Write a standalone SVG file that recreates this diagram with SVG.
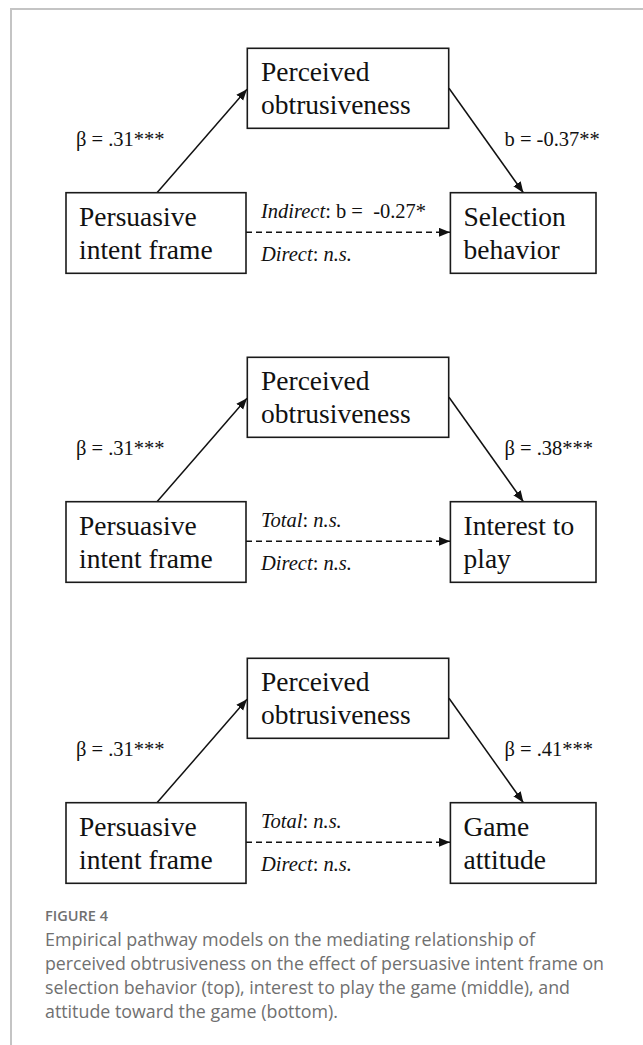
<svg xmlns="http://www.w3.org/2000/svg" width="643" height="1045" viewBox="0 0 643 1045">
  <style>
    .box { fill: #ffffff; stroke: #1a1a1a; stroke-width: 1.6; }
    .node { font-family: "Liberation Serif", "Times New Roman", serif; font-size: 27.5px; fill: #111111; }
    .lbl { font-family: "Liberation Serif", "Times New Roman", serif; font-size: 20.5px; fill: #111111; white-space: pre; }
    .it { font-style: italic; }
    .edge { stroke: #111111; stroke-width: 1.5; fill: none; }
    .dash { stroke-dasharray: 6 4; }
    .frame { stroke: #c4c4c4; stroke-width: 2; fill: none; }
    .cap { font-family: "Open Sans", "Noto Sans", sans-serif; fill: #707070; }
  </style>
  <defs>
    <marker id="arr" markerUnits="userSpaceOnUse" markerWidth="12" markerHeight="10" refX="11" refY="4.5" orient="auto">
      <path d="M0,0 L11,4.5 L0,9 z" fill="#111111"/>
    </marker>
  </defs>
  <rect width="643" height="1045" fill="#ffffff"/>
  <path class="frame" d="M11,1045 L11,9 L643,9"/>

  <!-- Panel 1 -->
  <g id="panel1">
    <g id="p1-connectors">
      <line class="edge" x1="157" y1="192.7" x2="247" y2="89.3" marker-end="url(#arr)"/>
      <line class="edge" x1="449" y1="88.3" x2="523.4" y2="192.7" marker-end="url(#arr)"/>
      <line class="edge dash" x1="246" y1="232.3" x2="450" y2="232.3" marker-end="url(#arr)"/>
      <text class="lbl" x="76" y="145.7">β = .31***</text>
      <text class="lbl" x="504.5" y="145.7">b = -0.37**</text>
      <text class="lbl" x="261" y="218.3"><tspan class="it">Indirect</tspan>: b =  -0.27*</text>
      <text class="lbl" x="261" y="261"><tspan class="it">Direct</tspan>: <tspan class="it">n.s.</tspan></text>
    </g>
    <g id="p1-mediator">
      <rect class="box" x="247.3" y="48.3" width="201.4" height="80"/>
      <text class="node" x="261" y="81">Perceived</text>
      <text class="node" x="261" y="114.3">obtrusiveness</text>
    </g>
    <g id="p1-predictor">
      <rect class="box" x="66" y="192.7" width="180" height="80.6"/>
      <text class="node" x="79" y="225.7">Persuasive</text>
      <text class="node" x="79" y="258.7">intent frame</text>
    </g>
    <g id="p1-outcome">
      <rect class="box" x="450.4" y="192.7" width="145.6" height="80.6"/>
      <text class="node" x="463.5" y="225.7">Selection</text>
      <text class="node" x="463.5" y="258.7">behavior</text>
    </g>
  </g>

  <!-- Panel 2 -->
  <g id="panel2" transform="translate(0,309)">
    <g id="p2-connectors">
      <line class="edge" x1="157" y1="192.7" x2="247" y2="89.3" marker-end="url(#arr)"/>
      <line class="edge" x1="449" y1="88.3" x2="523.4" y2="192.7" marker-end="url(#arr)"/>
      <line class="edge dash" x1="246" y1="232.3" x2="450" y2="232.3" marker-end="url(#arr)"/>
      <text class="lbl" x="76" y="145.7">β = .31***</text>
      <text class="lbl" x="504.5" y="145.7">β = .38***</text>
      <text class="lbl" x="261" y="218.3"><tspan class="it">Total</tspan>: <tspan class="it">n.s.</tspan></text>
      <text class="lbl" x="261" y="261"><tspan class="it">Direct</tspan>: <tspan class="it">n.s.</tspan></text>
    </g>
    <g id="p2-mediator">
      <rect class="box" x="247.3" y="48.3" width="201.4" height="80"/>
      <text class="node" x="261" y="81">Perceived</text>
      <text class="node" x="261" y="114.3">obtrusiveness</text>
    </g>
    <g id="p2-predictor">
      <rect class="box" x="66" y="192.7" width="180" height="80.6"/>
      <text class="node" x="79" y="225.7">Persuasive</text>
      <text class="node" x="79" y="258.7">intent frame</text>
    </g>
    <g id="p2-outcome">
      <rect class="box" x="450.4" y="192.7" width="145.6" height="80.6"/>
      <text class="node" x="463.5" y="225.7">Interest to</text>
      <text class="node" x="463.5" y="258.7">play</text>
    </g>
  </g>

  <!-- Panel 3 -->
  <g id="panel3" transform="translate(0,610)">
    <g id="p3-connectors">
      <line class="edge" x1="157" y1="192.7" x2="247" y2="89.3" marker-end="url(#arr)"/>
      <line class="edge" x1="449" y1="88.3" x2="523.4" y2="192.7" marker-end="url(#arr)"/>
      <line class="edge dash" x1="246" y1="232.3" x2="450" y2="232.3" marker-end="url(#arr)"/>
      <text class="lbl" x="76" y="145.7">β = .31***</text>
      <text class="lbl" x="504.5" y="145.7">β = .41***</text>
      <text class="lbl" x="261" y="218.3"><tspan class="it">Total</tspan>: <tspan class="it">n.s.</tspan></text>
      <text class="lbl" x="261" y="261"><tspan class="it">Direct</tspan>: <tspan class="it">n.s.</tspan></text>
    </g>
    <g id="p3-mediator">
      <rect class="box" x="247.3" y="48.3" width="201.4" height="80"/>
      <text class="node" x="261" y="81">Perceived</text>
      <text class="node" x="261" y="114.3">obtrusiveness</text>
    </g>
    <g id="p3-predictor">
      <rect class="box" x="66" y="192.7" width="180" height="80.6"/>
      <text class="node" x="79" y="225.7">Persuasive</text>
      <text class="node" x="79" y="258.7">intent frame</text>
    </g>
    <g id="p3-outcome">
      <rect class="box" x="450.4" y="192.7" width="145.6" height="80.6"/>
      <text class="node" x="463.5" y="225.7">Game</text>
      <text class="node" x="463.5" y="258.7">attitude</text>
    </g>
  </g>

  <g id="caption">
    <text class="cap" x="45" y="921" font-size="13.5" font-weight="600" textLength="63" lengthAdjust="spacingAndGlyphs">FIGURE 4</text>
    <text class="cap" x="45" y="946" font-size="17.5" textLength="490" lengthAdjust="spacingAndGlyphs">Empirical pathway models on the mediating relationship of</text>
    <text class="cap" x="45" y="970" font-size="17.5" textLength="559" lengthAdjust="spacingAndGlyphs">perceived obtrusiveness on the effect of persuasive intent frame on</text>
    <text class="cap" x="45" y="994" font-size="17.5" textLength="525" lengthAdjust="spacingAndGlyphs">selection behavior (top), interest to play the game (middle), and</text>
    <text class="cap" x="45" y="1017.5" font-size="17.5" textLength="293" lengthAdjust="spacingAndGlyphs">attitude toward the game (bottom).</text>
  </g>
</svg>
